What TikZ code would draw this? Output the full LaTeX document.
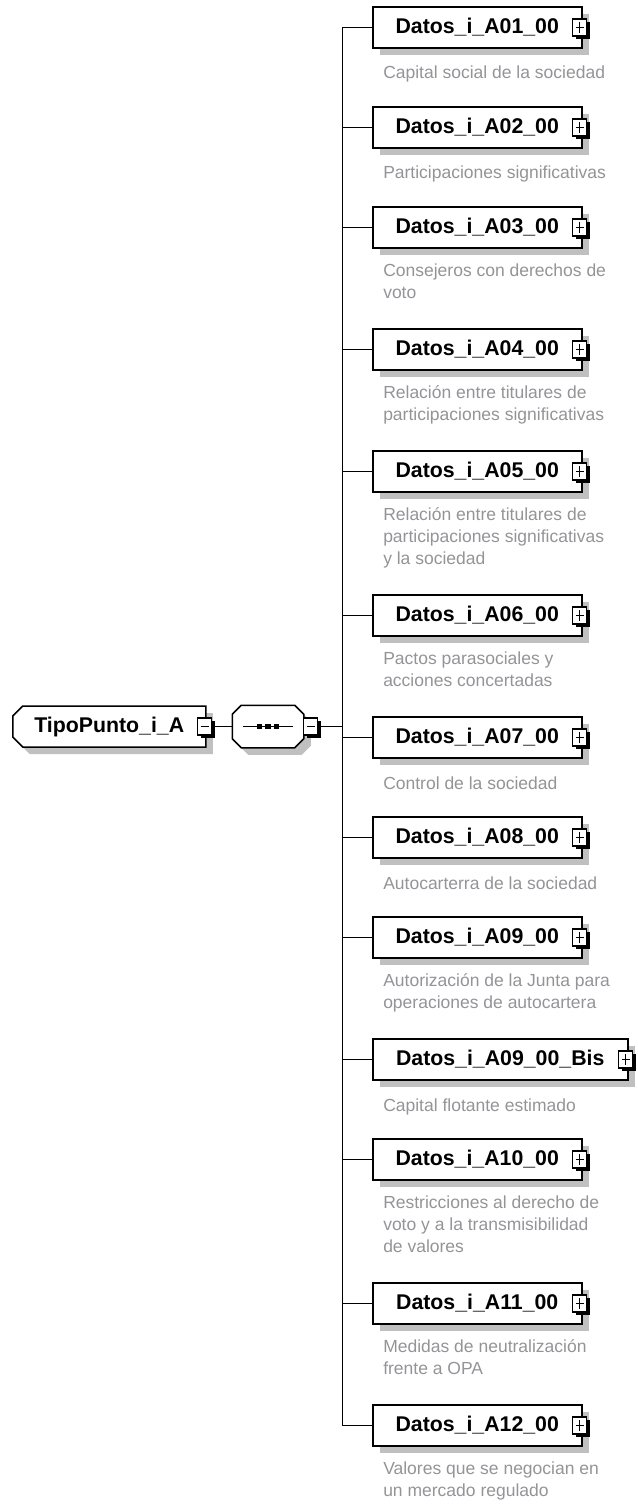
\documentclass[tikz,border=0pt]{standalone}
\usepackage{fontspec}
\setmainfont{Liberation Sans}
\usetikzlibrary{positioning,shadows,shapes.misc}
\definecolor{desctext}{RGB}{148,148,152}
\definecolor{shadowgray}{RGB}{192,192,192}

\begin{document}
\begin{tikzpicture}[x=1pt,y=-1pt,line width=1.5pt,every node/.style={inner sep=0pt},
  boxshadow/.style={drop shadow={shadow xshift=7pt,shadow yshift=-7pt,fill=shadowgray,opacity=1}},
  elem/.style={draw,fill=white,anchor=west,minimum width=209pt,minimum height=41pt,font=\fontsize{21.3}{24}\selectfont\bfseries,boxshadow},
  roottype/.style={elem,chamfered rectangle,chamfered rectangle corners={north west,south west},chamfered rectangle xsep=5pt,chamfered rectangle ysep=5pt,minimum width=193pt},
  seqtype/.style={minimum width=70pt,minimum height=41pt},
  desc/.style={align=left,text=desctext,font=\fontsize{17.5}{22}\selectfont,execute at begin node=\rule{0pt}{15pt}},
  expander/.style={draw,fill=white,minimum width=14pt,minimum height=17pt,line width=1.2pt,drop shadow={shadow xshift=3pt,shadow yshift=-3pt,fill=black,opacity=1}},
  minusbox/.style={expander,path picture={\draw[line width=1.3pt] ([xshift=3pt]path picture bounding box.west) -- ([xshift=-3pt]path picture bounding box.east);}},
  plusbox/.style={expander,path picture={\draw[line width=1.3pt] ([xshift=3pt]path picture bounding box.west) -- ([xshift=-3pt]path picture bounding box.east) ([yshift=3pt]path picture bounding box.south) -- ([yshift=-3pt]path picture bounding box.north);}}]
\useasboundingbox (0,0) rectangle (637,1506);

% root type and sequence
\node[roottype] (root) at (12,726.5) {TipoPunto\_i\_A\hspace{14pt}};
\node[minusbox] (rootx) at ([xshift=-2pt]root.east) {};
\node[seqtype] (seq) at (268,726.5) {};
\draw[fill=white,boxshadow] ([xshift=9pt]seq.north west) -- ([xshift=-9pt]seq.north east) -- ([yshift=-9pt]seq.north east) -- ([yshift=9pt]seq.south east) -- ([xshift=-9pt]seq.south east) -- ([xshift=9pt]seq.south west) -- ([yshift=9pt]seq.south west) -- ([yshift=-9pt]seq.north west) -- cycle;
\node[minusbox] (seqx) at ([xshift=7pt]seq.east) {};
\draw ([xshift=-25pt]seq.center) -- ([xshift=25pt]seq.center);
\foreach \dx in {-8.5,0,8.5}
  \fill ([xshift=\dx pt]seq.center) +(-2.8,-2.8) rectangle +(2.8,2.8);

% child elements
\node[elem] (a01) at (372,27.5) {Datos\_i\_A01\_00};
\node[elem] (a02) at (372,127.5) {Datos\_i\_A02\_00};
\node[elem] (a03) at (372,227.5) {Datos\_i\_A03\_00};
\node[elem] (a04) at (372,349.5) {Datos\_i\_A04\_00};
\node[elem] (a05) at (372,471.5) {Datos\_i\_A05\_00};
\node[elem] (a06) at (372,615.5) {Datos\_i\_A06\_00};
\node[elem] (a07) at (372,737.5) {Datos\_i\_A07\_00};
\node[elem] (a08) at (372,837.5) {Datos\_i\_A08\_00};
\node[elem] (a09) at (372,937.5) {Datos\_i\_A09\_00};
\node[elem,minimum width=255pt] (a09b) at (372,1059.5) {Datos\_i\_A09\_00\_Bis};
\node[elem] (a10) at (372,1159.5) {Datos\_i\_A10\_00};
\node[elem] (a11) at (372,1303.5) {Datos\_i\_A11\_00};
\node[elem] (a12) at (372,1425.5) {Datos\_i\_A12\_00};

% annotations
\node[desc,below right=14.5pt and 10.5pt of a01.south west] (a01d) {Capital social de la sociedad};
\node[desc,below right=14.5pt and 10.5pt of a02.south west] (a02d) {Participaciones significativas};
\node[desc,below right=14.5pt and 10.5pt of a03.south west] (a03d) {Consejeros con derechos de\\voto};
\node[desc,below right=14.5pt and 10.5pt of a04.south west] (a04d) {Relación entre titulares de\\participaciones significativas};
\node[desc,below right=14.5pt and 10.5pt of a05.south west] (a05d) {Relación entre titulares de\\participaciones significativas\\y la sociedad};
\node[desc,below right=14.5pt and 10.5pt of a06.south west] (a06d) {Pactos parasociales y\\acciones concertadas};
\node[desc,below right=14.5pt and 10.5pt of a07.south west] (a07d) {Control de la sociedad};
\node[desc,below right=14.5pt and 10.5pt of a08.south west] (a08d) {Autocarterra de la sociedad};
\node[desc,below right=14.5pt and 10.5pt of a09.south west] (a09d) {Autorización de la Junta para\\operaciones de autocartera};
\node[desc,below right=14.5pt and 10.5pt of a09b.south west] (a09bd) {Capital flotante estimado};
\node[desc,below right=14.5pt and 10.5pt of a10.south west] (a10d) {Restricciones al derecho de\\voto y a la transmisibilidad\\de valores};
\node[desc,below right=14.5pt and 10.5pt of a11.south west] (a11d) {Medidas de neutralización\\frente a OPA};
\node[desc,below right=14.5pt and 10.5pt of a12.south west] (a12d) {Valores que se negocian en\\un mercado regulado};

% expand buttons and connectors
\foreach \n in {a01,a02,a03,a04,a05,a06,a07,a08,a09,a09b,a10,a11,a12}
  \node[plusbox] (\n x) at ([xshift=-3pt]\n.east) {};
\coordinate (trunk) at (342.5,726.5);
\draw (rootx.east) -- (seq.west);
\draw (seqx.east) -- (trunk);
\draw (trunk |- a01.west) -- (trunk |- a12.west);
\foreach \n in {a01,a02,a03,a04,a05,a06,a07,a08,a09,a09b,a10,a11,a12}
  \draw (trunk |- \n.west) -- (\n.west);
\end{tikzpicture}
\end{document}
